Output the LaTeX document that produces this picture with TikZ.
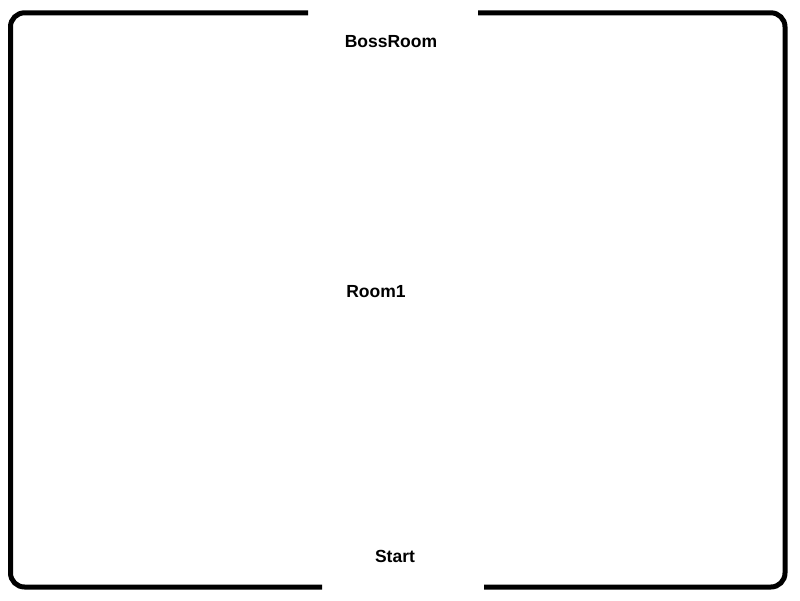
\documentclass[tikz,border=0pt]{standalone}
\usepackage{fontspec}
\setmainfont{Liberation Sans}
\begin{document}
\begin{tikzpicture}[x=1pt,y=-1pt,
  wall/.style={line width=5pt,rounded corners=14pt},
  room/.style={font=\fontsize{17.5}{20}\selectfont\bfseries,inner sep=0pt}]
\useasboundingbox (0,0) rectangle (800,600);
\node[room] (boss) at (391,42) {BossRoom};
\node[room] (room1) at (376,292) {Room1};
\node[room] (start) at (395,556) {Start};
\coordinate (tl) at (308,12.8);
\coordinate (tr) at (478,12.8);
\coordinate (bl) at (322,587);
\coordinate (br) at (484,587);
\draw[wall] (tl) -- (10.5,12.8) -- (10.5,587) -- (bl);
\draw[wall] (br) -- (785,587) -- (785,12.8) -- (tr);
\end{tikzpicture}
\end{document}
